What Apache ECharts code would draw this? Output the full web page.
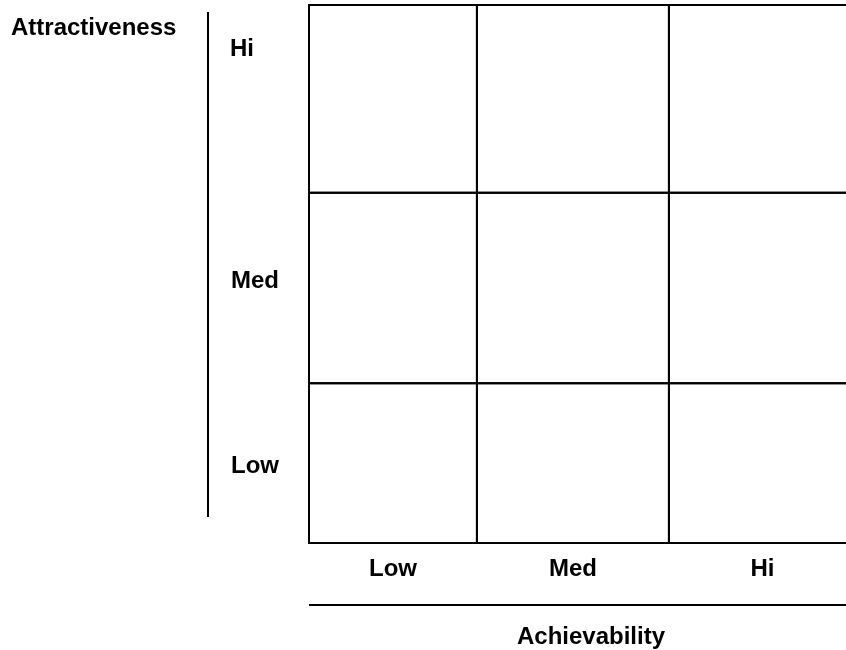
<!DOCTYPE html>
<html>
<head>
<meta charset="utf-8">
<script src="https://cdn.jsdelivr.net/npm/echarts@6/dist/echarts.min.js"></script>
<style>
  html, body { margin: 0; padding: 0; background: #fff; }
  #main { width: 846px; height: 650px; }
</style>
</head>
<body>
<div id="main"></div>
<script>
// achievability bands (x) and attractiveness bands (y), 0-10 scale
const xBands = ['Low', 'Med', 'Hi'];
const yBands = ['Low', 'Med', 'Hi'];
const xBounds = [0, 3.07, 6.58, 10];
const yBounds = [0, 2.97, 6.51, 10];

// one cell for every (x, y) band pair
const cells = [];
for (let i = 0; i < xBands.length; i++) {
  for (let j = 0; j < yBands.length; j++) {
    cells.push([i, j]);
  }
}

const FONT = 'Liberation Sans, Arial, sans-serif';
const textStyle = { fontFamily: FONT, fontWeight: 'bold', fontSize: 24, fill: '#000' };

function label(text, x, y, align) {
  return {
    type: 'text',
    x: x,
    y: y,
    style: Object.assign({ text: text, align: align, verticalAlign: 'middle' }, textStyle)
  };
}

const chart = echarts.init(document.getElementById('main'), null, { renderer: 'canvas' });

const option = {
  animation: false,
  // grid runs past the right edge so the outer right border is cut off
  grid: { left: 309, top: 5, width: 547, height: 538, outerBoundsMode: 'none', containLabel: false },
  xAxis: { type: 'value', min: 0, max: 10, show: false },
  yAxis: { type: 'value', min: 0, max: 10, show: false },
  series: [
    {
      // grid cells
      type: 'custom',
      clip: false,
      data: cells,
      renderItem: function (params, api) {
        const i = api.value(0), j = api.value(1);
        const p0 = api.coord([xBounds[i], yBounds[j + 1]]);
        const p1 = api.coord([xBounds[i + 1], yBounds[j]]);
        return {
          type: 'rect',
          shape: { x: p0[0], y: p0[1], width: p1[0] - p0[0], height: p1[1] - p0[1] },
          style: { fill: 'none', stroke: '#000', lineWidth: 2 }
        };
      }
    },
    {
      // achievability labels under each column
      type: 'custom',
      data: xBands.map((name, i) => [i, name]),
      renderItem: function (params, api) {
        const i = api.value(0);
        const p0 = api.coord([xBounds[i], 0]);
        const p1 = api.coord([xBounds[i + 1], 0]);
        return {
          type: 'text',
          style: Object.assign({
            text: xBands[i],
            x: (p0[0] + p1[0]) / 2,
            y: p0[1] + 26,
            align: 'center',
            verticalAlign: 'middle'
          }, textStyle)
        };
      }
    }
  ],
  graphic: [
    label('Attractiveness', 11, 28, 'left'),
    { type: 'line', shape: { x1: 208, y1: 12, x2: 208, y2: 517 }, style: { stroke: '#000', lineWidth: 2 } },
    label(yBands[2], 230, 49, 'left'),
    label(yBands[1], 231, 281, 'left'),
    label(yBands[0], 231, 466, 'left'),
    { type: 'line', shape: { x1: 309, y1: 605, x2: 846, y2: 605 }, style: { stroke: '#000', lineWidth: 2 } },
    label('Achievability', 591, 637, 'center')
  ]
};

chart.setOption(option);
</script>
</body>
</html>
